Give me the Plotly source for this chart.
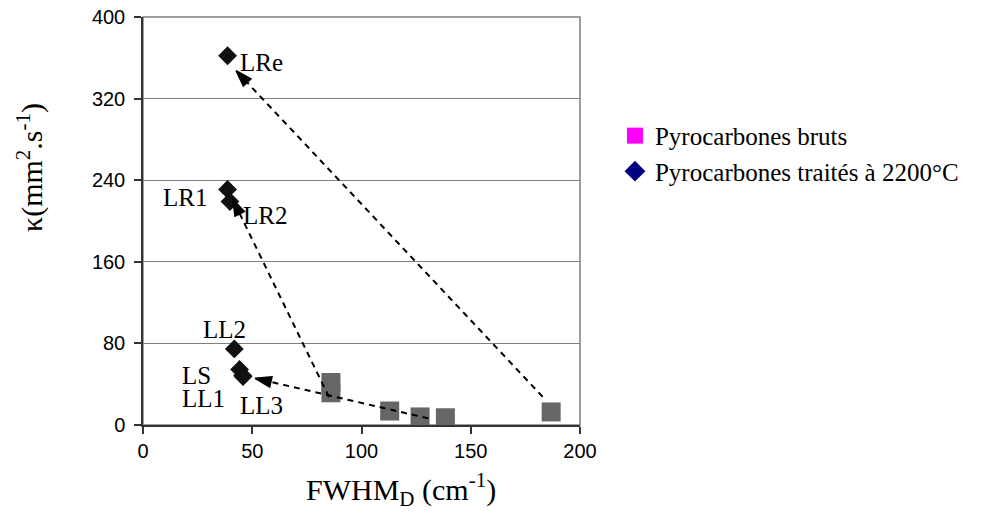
import plotly.graph_objects as go

# ---------------- data ----------------
# Pyrocarbones bruts (grey squares)
brut_x = [86.0, 86.0, 112.9, 126.8, 138.4, 186.8]
brut_y = [41.7, 31.6, 13.7, 7.9, 7.1, 12.8]

# Pyrocarbones traités à 2200°C (black diamonds)
traite_names = ["LRe", "LR1", "LR2", "LL2", "LS", "LL1", "LL3"]
traite_x = [38.7, 38.7, 39.8, 41.8, 44.2, 45.6, 45.8]
traite_y = [362.0, 231.0, 219.0, 74.6, 54.5, 48.5, 47.5]

# Dashed arrows (brut -> traité)
arrow_start_x = [182.9, 85.1, 130.6]
arrow_start_y = [27.7, 27.5, 6.5]
arrow_end_x = [42.6, 41.05, 51.3]
arrow_end_y = [347.4, 221.3, 45.8]

x_ticks = [0, 50, 100, 150, 200]
y_ticks = [0, 80, 160, 240, 320, 400]

legend_names = ["Pyrocarbones bruts", "Pyrocarbones traités à 2200°C"]
x_title = "FWHM<sub>D</sub> (cm<sup>-1</sup>)"
y_title = "κ(mm<sup>2</sup>.s<sup>-1</sup>)"

# ---------------- styling ----------------
SERIF = "Liberation Serif, Times New Roman, serif"
SANS = "Liberation Sans, Arial, sans-serif"

# label placement (pixel offsets from the point): xshift, yshift, xanchor
label_style = {
    "LRe": (10, -7, "left"),
    "LR1": (-19, -8, "right"),
    "LR2": (11, -14, "left"),
    "LL2": (-10, 19, "center"),
    "LS": (-43, -6, "center"),
    "LL1": (-39, -23, "center"),
    "LL3": (18, -29, "center"),
}

fig = go.Figure()

fig.add_trace(go.Scatter(
    x=brut_x, y=brut_y, mode="markers",
    marker=dict(symbol="square", size=19, color="#666666"),
    showlegend=False, hoverinfo="x+y",
))
fig.add_trace(go.Scatter(
    x=traite_x, y=traite_y, mode="markers", text=traite_names,
    marker=dict(symbol="diamond", size=14.5, color="#111111"),
    showlegend=False, hoverinfo="text+x+y",
))

for sx, sy, ex, ey in zip(arrow_start_x, arrow_start_y, arrow_end_x, arrow_end_y):
    fig.add_trace(go.Scatter(
        x=[sx, ex], y=[sy, ey], mode="lines+markers",
        line=dict(color="black", width=2, dash="6px,5px"),
        marker=dict(symbol="arrow", size=[0, 17], angleref="previous", color="black",
                    opacity=1, line=dict(width=1.5, color="black")),
        showlegend=False, hoverinfo="skip",
    ))

# legend-only entries (colours as in the original legend)
fig.add_trace(go.Scatter(
    x=[None], y=[None], mode="markers", name=legend_names[0],
    marker=dict(symbol="square", size=16, color="#FF00FF"),
))
fig.add_trace(go.Scatter(
    x=[None], y=[None], mode="markers", name=legend_names[1],
    marker=dict(symbol="diamond", size=16, color="#000080"),
))

for name, xv, yv in zip(traite_names, traite_x, traite_y):
    xs, ys, xa = label_style[name]
    fig.add_annotation(
        x=xv, y=yv, xref="x", yref="y", text=name, showarrow=False,
        xshift=xs, yshift=ys, xanchor=xa, yanchor="middle",
        font=dict(family=SERIF, size=25, color="black"),
    )

# axis titles
fig.add_annotation(
    x=0.59, y=-0.159, xref="paper", yref="paper", text=x_title, showarrow=False,
    xanchor="center", yanchor="middle",
    font=dict(family=SERIF, size=30, color="black"),
)
fig.add_annotation(
    x=-0.259, y=0.632, xref="paper", yref="paper", text=y_title, showarrow=False,
    textangle=-90, xanchor="center", yanchor="middle",
    font=dict(family=SERIF, size=30, color="black"),
)

# plot-area frame (grey), axes drawn dark on top
fig.add_shape(type="rect", xref="paper", yref="paper", x0=0, y0=0, x1=1, y1=1,
              line=dict(color="#808080", width=1.5), layer="below")

fig.update_layout(
    width=994, height=515,
    margin=dict(l=143, r=414, t=17, b=90),
    paper_bgcolor="white", plot_bgcolor="white",
    font=dict(family=SANS, size=20, color="black"),
    showlegend=True,
    legend=dict(
        x=1.08, y=0.765, xanchor="left", yanchor="top",
        font=dict(family=SERIF, size=25, color="black"),
        bgcolor="rgba(0,0,0,0)", itemsizing="trace",
    ),
)

fig.update_xaxes(
    range=[0, 200], tickvals=x_ticks, ticktext=[str(v) for v in x_ticks],
    showgrid=False, zeroline=False, automargin=False,
    showline=True, linecolor="#333333", linewidth=1.5,
    ticks="outside", ticklen=7, tickcolor="#333333", tickwidth=1.5,
    tickfont=dict(family=SANS, size=20),
)
fig.update_yaxes(
    range=[0, 400], tickvals=y_ticks, ticktext=[str(v) for v in y_ticks],
    showgrid=True, gridcolor="#808080", gridwidth=1.2, zeroline=False,
    automargin=False,
    showline=True, linecolor="#333333", linewidth=1.5,
    ticks="outside", ticklen=7, tickcolor="#333333", tickwidth=1.5,
    tickfont=dict(family=SANS, size=20), ticklabelstandoff=5,
)

fig.write_html("out.html", config={"displayModeBar": False},
               post_script="document.body.style.margin='0px';")
